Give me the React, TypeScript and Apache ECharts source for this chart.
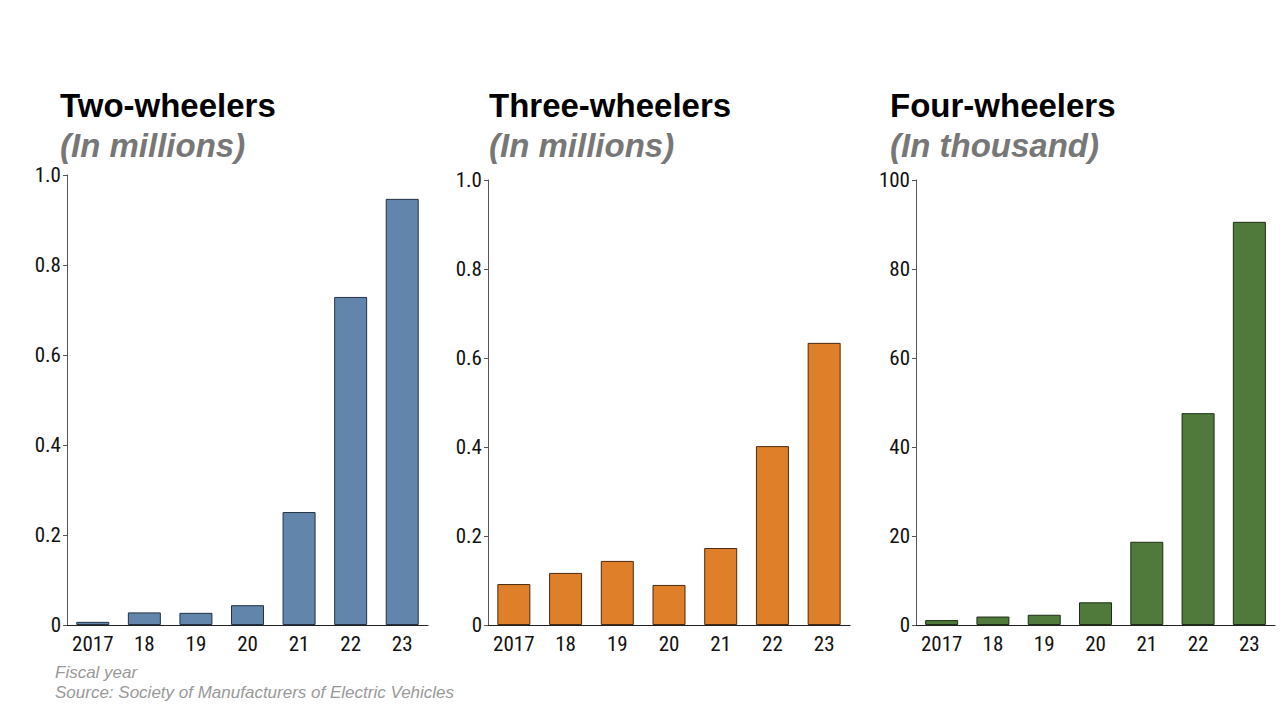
import { useRef, useEffect } from "react"
import * as echarts from "echarts"

const years = ["2017", "18", "19", "20", "21", "22", "23"]

const twoWheelers = [0.007, 0.028, 0.027, 0.044, 0.251, 0.729, 0.947]
const threeWheelers = [0.092, 0.117, 0.144, 0.09, 0.173, 0.402, 0.634]
const fourWheelers = [1.1, 1.9, 2.3, 5.1, 18.7, 47.6, 90.6]

const panelTitles = ["Two-wheelers", "Three-wheelers", "Four-wheelers"]
const panelUnits = ["(In millions)", "(In millions)", "(In thousand)"]
const yMax = [1, 1, 100]
const yStep = [0.2, 0.2, 20]

const barColors = ["#6286ab", "#e07f2a", "#4f7a3b"]
const borderColors = ["#233244", "#4a2a10", "#1e2e16"]

const grids = [
  { left: 67, top: 175, width: 361, height: 450 },
  { left: 488, top: 180, width: 362, height: 445 },
  { left: 916, top: 180, width: 359, height: 445 },
]
const titlePos = [55, 484, 885]

const tickFont = "'Liberation Sans Narrow', 'Roboto Condensed', Roboto, sans-serif"
const headFont = "'Liberation Sans', Arial, sans-serif"

export default function App() {
  const chartRef = useRef<HTMLDivElement>(null)

  useEffect(() => {
    if (!chartRef.current) return
    const instance = echarts.init(chartRef.current, undefined, { renderer: "svg" })

    const seriesData = [twoWheelers, threeWheelers, fourWheelers]

    const titles: any[] = []
    panelTitles.forEach((t, i) => {
      titles.push({
        text: t,
        left: titlePos[i],
        top: 84,
        textStyle: { fontFamily: headFont, fontSize: 33, fontWeight: "bold", color: "#000" },
      })
      titles.push({
        text: panelUnits[i],
        left: titlePos[i],
        top: 124,
        textStyle: {
          fontFamily: headFont,
          fontSize: 33,
          fontWeight: "bold",
          fontStyle: "italic",
          color: "#777777",
        },
      })
    })
    const footStyle = { fontFamily: headFont, fontSize: 17, fontStyle: "italic", fontWeight: "normal", color: "#999999" }
    titles.push({ text: "Fiscal year", left: 50, top: 659, textStyle: footStyle })
    titles.push({
      text: "Source: Society of Manufacturers of Electric Vehicles",
      left: 50,
      top: 679,
      textStyle: footStyle,
    })

    instance.setOption({
      animation: false,
      backgroundColor: "#ffffff",
      title: titles,
      grid: grids,
      xAxis: grids.map((_, i) => ({
        type: "category",
        gridIndex: i,
        data: years,
        axisLine: { lineStyle: { color: "#222", width: 1.2 } },
        axisTick: { show: false },
        axisLabel: { interval: 0, fontFamily: tickFont, fontSize: 21, color: "#111", margin: 8 },
      })),
      yAxis: grids.map((_, i) => ({
        type: "value",
        gridIndex: i,
        min: 0,
        max: yMax[i],
        interval: yStep[i],
        axisLine: { show: true, lineStyle: { color: "#555", width: 1 } },
        axisTick: { show: true, length: 4, lineStyle: { color: "#555" } },
        splitLine: { show: false },
        axisLabel: {
          fontFamily: tickFont,
          fontSize: 21,
          color: "#111",
          margin: 6,
          formatter: (v: number) => (v === 0 ? "0" : i === 2 ? String(v) : v.toFixed(1)),
        },
      })),
      series: seriesData.map((d, i) => ({
        type: "bar",
        xAxisIndex: i,
        yAxisIndex: i,
        data: d,
        barWidth: 33,
        itemStyle: { color: barColors[i], borderColor: borderColors[i], borderWidth: 1 },
      })),
    })

    return () => {
      instance.dispose()
    }
  }, [])

  return (
    <div
      ref={chartRef}
      style={{ position: "fixed", left: 0, top: 0, width: 1280, height: 719 }}
    />
  )
}
